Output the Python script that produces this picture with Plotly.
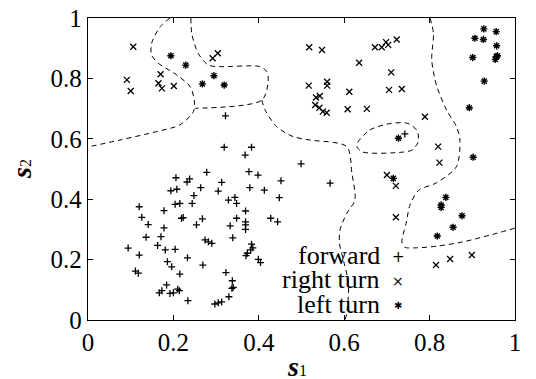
import plotly.graph_objects as go

# ---- data ----
forward_s1 = [0.319,0.383,0.368,0.499,0.278,0.377,0.398,0.206,0.238,0.232,0.313,0.452,0.264,0.379,0.413,
              0.194,0.208,0.305,0.248,0.344,0.329,0.348,0.448,0.204,0.215,0.244,0.120,0.178,0.369,0.126,
              0.219,0.223,0.268,0.348,0.428,0.444,0.141,0.369,0.369,0.369,0.333,0.254,0.178,0.136,0.171,
              0.339,0.274,0.282,0.290,0.163,0.094,0.181,0.204,0.383,0.386,0.381,0.120,0.233,0.370,0.373,
              0.399,0.404,0.186,0.196,0.269,0.111,0.118,0.323,0.215,0.338,0.340,0.337,0.184,0.167,0.173,
              0.192,0.200,0.210,0.214,0.330,0.234,0.297,0.305,0.313,0.322,0.567,0.742]
forward_s2 = [0.572,0.572,0.546,0.517,0.489,0.491,0.480,0.471,0.467,0.457,0.456,0.461,0.438,0.438,0.430,
              0.428,0.433,0.427,0.412,0.406,0.397,0.386,0.405,0.383,0.386,0.386,0.375,0.362,0.361,0.340,
              0.337,0.339,0.335,0.337,0.337,0.325,0.316,0.325,0.315,0.300,0.312,0.315,0.305,0.274,0.276,
              0.272,0.265,0.259,0.254,0.247,0.238,0.232,0.234,0.251,0.239,0.232,0.215,0.206,0.213,0.221,
              0.201,0.190,0.193,0.176,0.182,0.162,0.155,0.157,0.152,0.130,0.108,0.105,0.116,0.090,0.097,
              0.088,0.090,0.102,0.097,0.077,0.064,0.053,0.057,0.060,0.676,0.453,0.616]

right_s1 = [0.106,0.091,0.100,0.170,0.165,0.173,0.201,0.304,0.292,0.518,0.548,0.672,0.688,0.698,0.703,
            0.723,0.635,0.710,0.517,0.560,0.560,0.612,0.705,0.735,0.534,0.543,0.532,0.542,0.550,0.559,
            0.608,0.653,0.789,0.820,0.823,0.700,0.721,0.721,0.815,0.848,0.899]
right_s2 = [0.905,0.795,0.758,0.814,0.784,0.767,0.775,0.883,0.867,0.903,0.894,0.903,0.903,0.920,0.911,
            0.929,0.852,0.820,0.776,0.789,0.776,0.756,0.762,0.765,0.737,0.742,0.712,0.703,0.690,0.686,
            0.698,0.699,0.673,0.574,0.521,0.480,0.444,0.340,0.182,0.202,0.215]

left_s1 = [0.194,0.229,0.295,0.268,0.319,0.927,0.956,0.906,0.926,0.957,0.901,0.956,0.959,0.954,0.928,
           0.893,0.902,0.727,0.715,0.838,0.827,0.827,0.876,0.855,0.818]
left_s2 = [0.875,0.844,0.809,0.782,0.778,0.964,0.955,0.933,0.929,0.908,0.869,0.872,0.875,0.863,0.791,
           0.703,0.539,0.602,0.469,0.406,0.381,0.373,0.345,0.307,0.278]

# decision boundaries (dashed)
bA_s1 = [0.192,0.169,0.149,0.149,0.165,0.208,0.239,0.249,0.247,0.215,0.161,0.075,0.0]
bA_s2 = [1.0,0.971,0.916,0.877,0.850,0.811,0.773,0.728,0.690,0.646,0.624,0.596,0.573]
bB_s1 = [0.241,0.243,0.258,0.282,0.309,0.403,0.419,0.422,0.407,0.251]
bB_s2 = [1.0,0.949,0.883,0.844,0.839,0.839,0.822,0.789,0.728,0.701]
bC_s1 = [0.407,0.415,0.442,0.481,0.520,0.606,0.618,0.625,0.606,0.590,0.589,0.598,0.610,0.606,0.602]
bC_s2 = [0.728,0.695,0.640,0.607,0.596,0.574,0.486,0.397,0.353,0.298,0.254,0.199,0.122,0.022,0.0]
bD_s1 = [0.801,0.809,0.805,0.817,0.840,0.863,0.871,0.863,0.817,0.774,0.754,0.745,0.735,0.742,0.770,
         0.820,0.879,0.941,1.0]
bD_s2 = [1.0,0.949,0.861,0.773,0.695,0.640,0.596,0.508,0.455,0.429,0.381,0.320,0.258,0.241,0.239,
         0.245,0.259,0.281,0.304]
bE_s1 = [0.629,0.660,0.710,0.749,0.771,0.773,0.759,0.738,0.642,0.629]
bE_s2 = [0.579,0.629,0.651,0.651,0.626,0.589,0.563,0.556,0.557,0.579]

labels = ["forward", "right turn", "left turn"]
glyphs = ["+", "×", "✱"]
ticks = [0, 0.2, 0.4, 0.6, 0.8, 1]
tick_text = ["0", "0.2", "0.4", "0.6", "0.8", "1"]

FONT = "Liberation Serif, Times New Roman, serif"

fig = go.Figure()
for bx, by in [(bA_s1, bA_s2), (bB_s1, bB_s2), (bC_s1, bC_s2), (bD_s1, bD_s2), (bE_s1, bE_s2)]:
    fig.add_trace(go.Scatter(x=bx, y=by, mode="lines", showlegend=False, hoverinfo="skip",
                             line=dict(color="black", width=1, dash="5px,4px", shape="spline", smoothing=0.8)))

fig.add_trace(go.Scatter(x=forward_s1, y=forward_s2, mode="markers", name=labels[0], showlegend=False,
                         marker=dict(symbol="cross-thin-open", size=5, color="black",
                                     line=dict(color="black", width=1.3))))
fig.add_trace(go.Scatter(x=right_s1, y=right_s2, mode="markers", name=labels[1], showlegend=False,
                         marker=dict(symbol="x-thin-open", size=6, color="black",
                                     line=dict(color="black", width=1.3))))
fig.add_trace(go.Scatter(x=left_s1, y=left_s2, mode="markers", name=labels[2], showlegend=False,
                         marker=dict(symbol="asterisk-open", size=6, color="black",
                                     line=dict(color="black", width=1.4))))

# legend drawn as text (text right-aligned, symbol on right, as in the original)
leg_y = [0.215, 0.135, 0.052]
glyph_sizes = [15, 14, 10]
for lab, g, yy, gs in zip(labels, glyphs, leg_y, glyph_sizes):
    fig.add_annotation(x=0.688, y=yy, xref="x", yref="y", text=lab, showarrow=False,
                       xanchor="right", yanchor="middle", font=dict(family=FONT, size=26, color="black"))
    fig.add_annotation(x=0.726, y=yy - 0.005, xref="x", yref="y", text=g, showarrow=False,
                       xanchor="center", yanchor="middle",
                       font=dict(family="DejaVu Sans", size=gs, color="black"))

# axis titles
fig.add_annotation(x=0.49, y=-0.155, xref="paper", yref="paper", showarrow=False,
                   text="<b><i>s</i></b><span style='font-size:16px'>1</span>",
                   xanchor="center", yanchor="middle", font=dict(family=FONT, size=28, color="black"))
fig.add_annotation(x=-0.157, y=0.5, xref="paper", yref="paper", showarrow=False, textangle=-90,
                   text="<b><i>s</i></b><span style='font-size:16px'>2</span>",
                   xanchor="center", yanchor="middle", font=dict(family=FONT, size=28, color="black"))

axis_common = dict(range=[0, 1], showgrid=False, zeroline=False, showline=True, linecolor="black",
                   linewidth=1.3, mirror="ticks", ticks="inside", ticklen=5, tickwidth=1,
                   tickcolor="black", tickvals=ticks, ticktext=tick_text, automargin=False,
                   tickfont=dict(family=FONT, size=25, color="black"))

fig.update_layout(
    width=536, height=379,
    margin=dict(l=88, r=21, t=18, b=59),
    paper_bgcolor="white", plot_bgcolor="white",
    xaxis=dict(**axis_common),
    yaxis=dict(**axis_common),
    showlegend=False,
)

# remove the default 8px page margin so the figure sits at the window's corner
fig.write_html("out.html", config={"displayModeBar": False},
               post_script="document.body.style.margin='0px';")
